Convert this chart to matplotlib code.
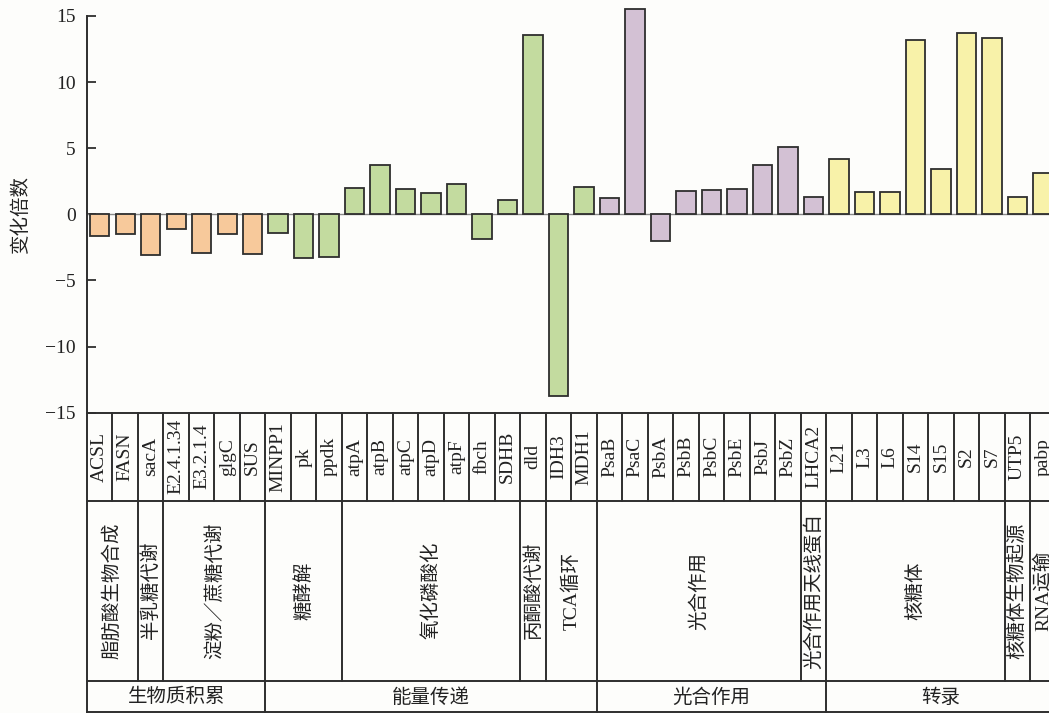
import numpy as np
import matplotlib
matplotlib.use("Agg")
from matplotlib import pyplot as plt

genes = ["ACSL", "FASN", "sacA", "E2.4.1.34", "E3.2.1.4", "glgC", "SUS",
         "MINPP1", "pk", "ppdk", "atpA", "atpB", "atpC", "atpD", "atpF", "fbch", "SDHB",
         "dld", "IDH3", "MDH1",
         "PsaB", "PsaC", "PsbA", "PsbB", "PsbC", "PsbE", "PsbJ", "PsbZ", "LHCA2",
         "L21", "L3", "L6", "S14", "S15", "S2", "S7", "UTP5", "pabp"]
fold_change = [-1.6, -1.5, -3.1, -1.1, -2.9, -1.5, -3.0,
               -1.4, -3.3, -3.2, 2.0, 3.7, 1.9, 1.6, 2.3, -1.9, 1.1,
               13.6, -13.7, 2.1,
               1.2, 15.5, -2.0, 1.8, 1.85, 1.9, 3.7, 5.1, 1.3,
               4.2, 1.7, 1.7, 13.2, 3.4, 13.7, 13.3, 1.3, 3.1]

# second table row: pathway name and how many genes it covers
pathway_names = ["脂肪酸生物合成", "半乳糖代谢", "淀粉／蔗糖代谢", "糖酵解", "氧化磷酸化",
                 "丙酮酸代谢", "TCA循环", "光合作用", "光合作用天线蛋白", "核糖体",
                 "核糖体生物起源", "RNA运输"]
pathway_sizes = [2, 1, 4, 3, 7, 1, 2, 8, 1, 7, 1, 1]

# third table row: functional class
class_names = ["生物质积累", "能量传递", "光合作用", "转录"]
class_sizes = [7, 13, 9, 9]
class_colors = ["#F7C99B", "#C3DB9F", "#D3C1D4", "#F8F2A9"]

FONT = ["Liberation Serif", "Noto Sans CJK SC"]
plt.rcParams["font.family"] = FONT
plt.rcParams["axes.unicode_minus"] = True

W, H = 1049, 713
x0 = 87.0          # left spine, px
slot = 25.49       # px per gene
y_top, y_zero_bottom, y_end = 16.0, 412.7, 712.0
line_c = "#2e2e2e"
bg = "#fdfdfb"

fig = plt.figure(figsize=(W / 100, H / 100), dpi=100, facecolor=bg)

n = len(genes)
ax = fig.add_axes([x0 / W, 1 - y_zero_bottom / H, n * slot / W, (y_zero_bottom - y_top) / H])
ax.set_facecolor(bg)

bar_colors = []
for c, k in zip(class_colors, class_sizes):
    bar_colors += [c] * k

x = np.arange(n)
ax.axhline(0, color="#8a8a8a", lw=1.0, zorder=2)
ax.bar(x, fold_change, width=0.76, color=bar_colors, edgecolor=line_c,
       linewidth=1.3, zorder=3, clip_on=False)

ax.set_xlim(-0.5, n - 0.5)
ax.set_ylim(-15, 15)
ax.set_yticks([-15, -10, -5, 0, 5, 10, 15])
ax.set_xticks([])
for s in ["top", "right", "bottom"]:
    ax.spines[s].set_visible(False)
ax.spines["left"].set_color(line_c)
ax.spines["left"].set_linewidth(1.4)
ax.tick_params(axis="y", direction="in", length=6.5, width=1.3, color=line_c,
               labelsize=14, pad=8, labelcolor="#222222")

fig.text(21 / W, 1 - 214 / H, "变化倍数", rotation=90, ha="center", va="center",
         fontsize=14, color="#222222")

# table underneath
tab = fig.add_axes([x0 / W, 1 - y_end / H, n * slot / W, (y_end - y_zero_bottom) / H])
tab.set_xlim(-0.5, n - 0.5)
th = y_end - y_zero_bottom
tab.set_ylim(th, 0)
tab.axis("off")
r1, r2 = 88.0, 268.0

lw = 1.4
for yy in [0, r1, r2, th]:
    tab.plot([-0.5, n - 0.5], [yy, yy], color=line_c, lw=lw, clip_on=False)
tab.plot([-0.5, -0.5], [0, th], color=line_c, lw=lw, clip_on=False)

for i, g in enumerate(genes):
    tab.plot([i + 0.5, i + 0.5], [0, r1], color=line_c, lw=lw, clip_on=False)
    tab.text(i, r1 / 2, g, rotation=90, ha="center", va="center",
             fontsize=14, color="#222222")

start = 0
for name, k in zip(pathway_names, pathway_sizes):
    end = start + k
    tab.plot([end - 0.5, end - 0.5], [r1, r2], color=line_c, lw=lw, clip_on=False)
    tab.text((start + end - 1) / 2, (r1 + r2) / 2, name, rotation=90, ha="center",
             va="center", fontsize=14, color="#222222")
    start = end

start = 0
for name, k in zip(class_names, class_sizes):
    end = start + k
    tab.plot([end - 0.5, end - 0.5], [r2, th], color=line_c, lw=lw, clip_on=False)
    tab.text((start + end - 1) / 2, (r2 + th) / 2 + 1, name, ha="center",
             va="center", fontsize=14, color="#222222")
    start = end

fig.savefig("out.png", dpi=100, facecolor=bg)
